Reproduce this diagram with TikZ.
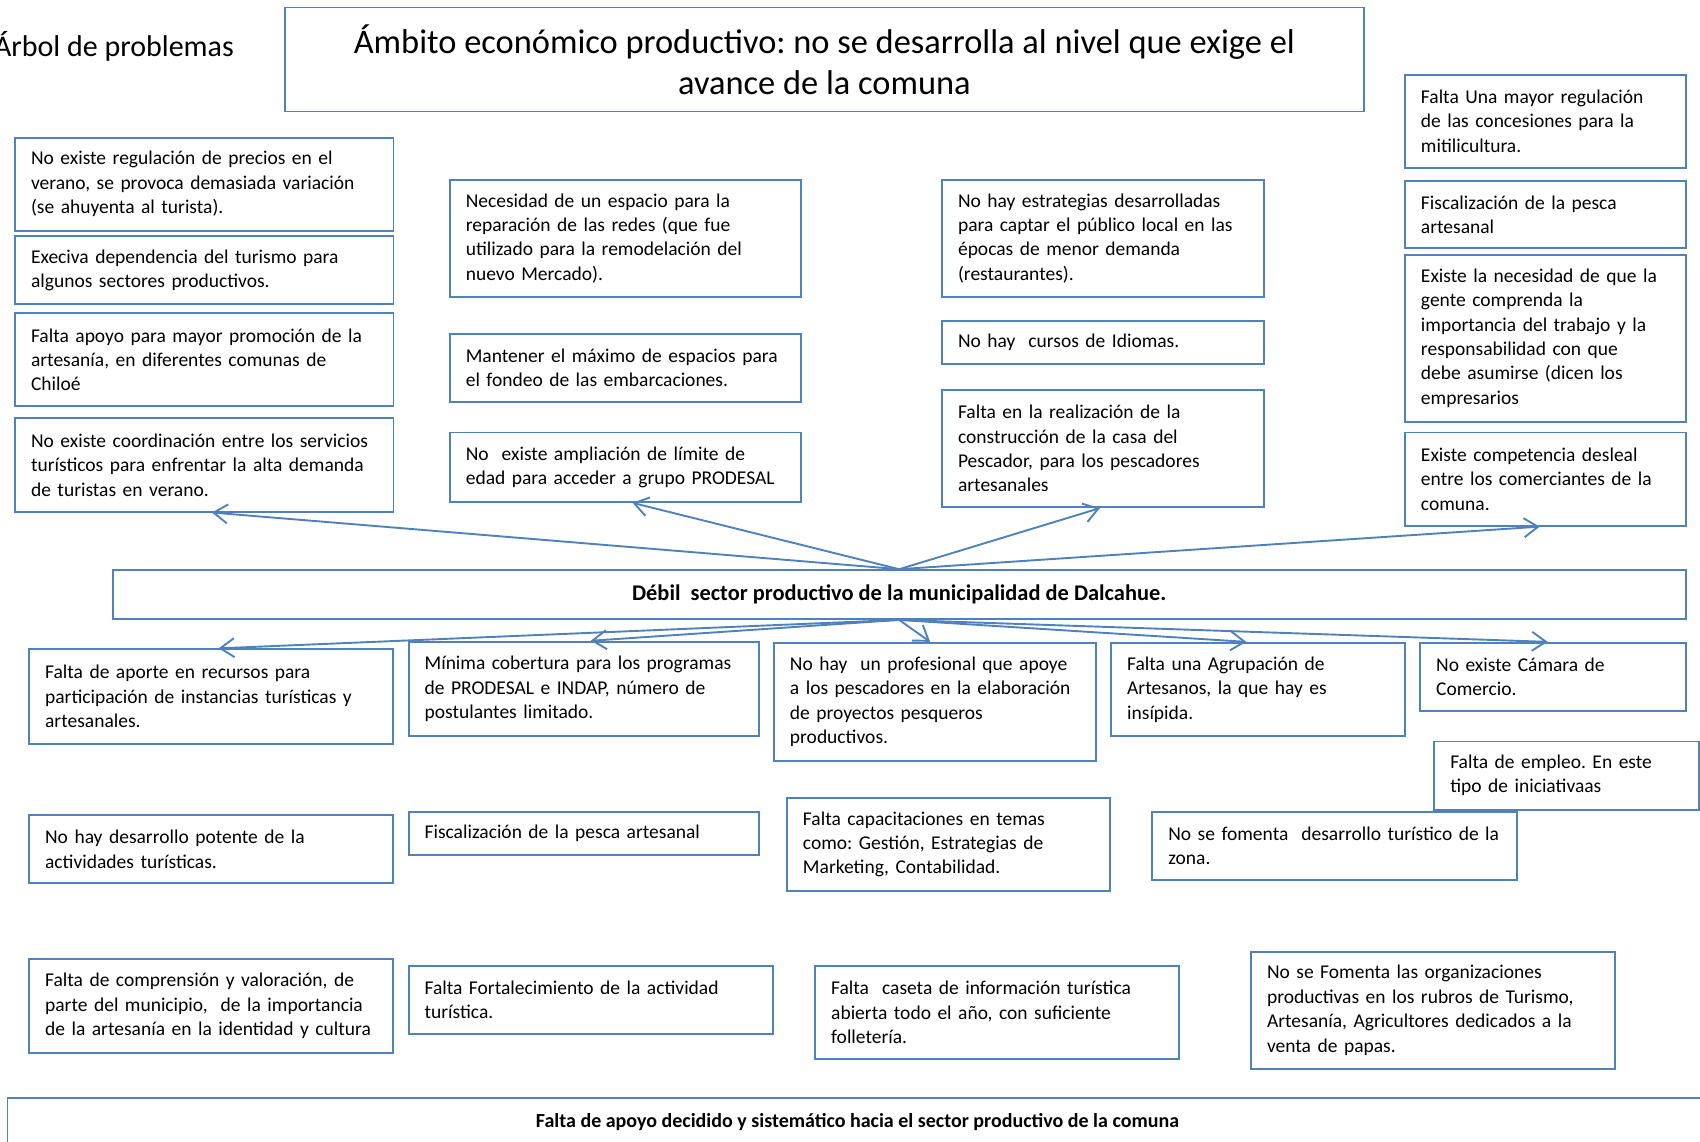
\documentclass[tikz,border=0pt]{standalone}
\usepackage{fontspec}
\setmainfont{Carlito}
\usepackage{tikz}
\usetikzlibrary{arrows.meta}
\usetikzlibrary{calc}
\definecolor{azul}{RGB}{79,129,189}
\frenchspacing
\hyphenpenalty=10000
\exhyphenpenalty=10000

\begin{document}
\begin{tikzpicture}[
    x=0.542pt, y=-0.542pt,
    >={Straight Barb[length=7pt,width=9.5pt]},
    caja/.style={rectangle, draw=azul, line width=0.95pt, anchor=north west, align=left, inner xsep=8pt, inner ysep=3pt, font=\fontsize{9.75}{12.2}\selectfont},
    caja_centro/.style={rectangle, draw=azul, line width=0.95pt, anchor=north west, align=center, font=\fontsize{10}{12.2}\selectfont\bfseries},
    flecha/.style={draw=azul, line width=0.95pt},
  ]
  \useasboundingbox (0,0) rectangle (1568,1052.6);
  \clip (0,0) rectangle (1568,1052.6);

  % Nodes
  \node[anchor=base east, inner sep=0pt, font=\fontsize{15}{18}\selectfont] (arbol) at (216,52) {Árbol de problemas};
  \node[caja_centro, minimum width=539.3pt, minimum height=52pt, font=\fontsize{17.2}{20.6}\selectfont] (titulo) at (262,6)
    {Ámbito económico productivo: no se desarrolla al nivel que exige el\\avance de la comuna};

  % efectos
  \node[caja, text width=173.2pt, minimum height=46.6pt] (ef_1_1) at (13,126)
    {No existe regulación de precios en el\\verano, se provoca demasiada variación\\(se ahuyenta al turista).};
  \node[caja, text width=173.2pt, minimum height=34.1pt] (ef_1_2) at (13,217)
    {Execiva dependencia del turismo para\\algunos sectores productivos.};
  \node[caja, text width=173.2pt, minimum height=46.6pt] (ef_1_3) at (13,288)
    {Falta apoyo para mayor promoción de la\\artesanía, en diferentes comunas de\\Chiloé};
  \node[caja, text width=173.2pt, minimum height=46.6pt] (ef_1_4) at (13,385)
    {No existe coordinación entre los servicios\\turísticos para enfrentar la alta demanda\\de turistas en verano.};

  \node[caja, text width=159.6pt, minimum height=58.5pt] (ef_2_1) at (414,165)
    {Necesidad de un espacio para la\\reparación de las redes (que fue\\utilizado para la remodelación del\\nuevo Mercado).};
  \node[caja, text width=159.6pt, minimum height=34.1pt] (ef_2_2) at (414,307)
    {Mantener el máximo de espacios para\\el fondeo de las embarcaciones.};
  \node[caja, text width=159.6pt, minimum height=34.7pt] (ef_2_3) at (414,398)
    {No\ \ existe ampliación de límite de\\edad para acceder a grupo PRODESAL};

  \node[caja, text width=145pt, minimum height=58.5pt] (ef_3_1) at (868,165)
    {No hay estrategias desarrolladas\\para captar el público local en las\\épocas de menor demanda\\(restaurantes).};
  \node[caja, text width=145pt, minimum height=21.7pt] (ef_3_2) at (868,295)
    {No hay\ \ cursos de Idiomas.};
  \node[caja, text width=145pt, minimum height=58.5pt] (ef_3_3) at (868,359)
    {Falta en la realización de la\\construcción de la casa del\\Pescador, para los pescadores\\artesanales};

  \node[caja, text width=124.4pt, minimum height=46.6pt] (ef_4_1) at (1295,68)
    {Falta Una mayor regulación\\de las concesiones para la\\mitilicultura.};
  \node[caja, text width=124.4pt, minimum height=33.6pt] (ef_4_2) at (1295,166)
    {Fiscalización de la pesca\\artesanal};
  \node[caja, text width=124.4pt, minimum height=83.5pt] (ef_4_3) at (1295,234)
    {Existe la necesidad de que la\\gente comprenda la\\importancia del trabajo y la\\responsabilidad con que\\debe asumirse (dicen los\\empresarios};
  \node[caja, text width=124.4pt, minimum height=46.6pt] (ef_4_4) at (1295,398)
    {Existe competencia desleal\\entre los comerciantes de la\\comuna.};

  % problema central
  \node[caja_centro, minimum width=786.4pt, minimum height=24.4pt, font=\fontsize{11.2}{13}\selectfont\bfseries] (problema) at (103,525)
    {Débil\ \ sector productivo de la municipalidad de Dalcahue.};

  % causas
  \node[caja, text width=166.1pt, minimum height=47.2pt] (ca_1_1) at (26,598)
    {Falta de aporte en recursos para\\participación de instancias turísticas y\\artesanales.};
  \node[caja, text width=159.1pt, minimum height=47.2pt] (ca_1_2) at (376,591)
    {Mínima cobertura para los programas\\de PRODESAL e INDAP, número de\\postulantes limitado.};
  \node[caja, text width=145pt, minimum height=59.1pt] (ca_1_3) at (713,592)
    {No hay\ \ un profesional que apoye\\a los pescadores en la elaboración\\de proyectos pesqueros\\productivos.};
  \node[caja, text width=130.9pt, minimum height=46.6pt] (ca_1_4) at (1024,592)
    {Falta una Agrupación de\\Artesanos, la que hay es\\insípida.};
  \node[caja, text width=116.8pt, minimum height=34.1pt] (ca_1_5) at (1309,592)
    {No existe Cámara de\\Comercio.};

  \node[caja, text width=116.2pt, minimum height=34.1pt] (ca_2_5) at (1322,683)
    {Falta de empleo. En este\\tipo de iniciativaas};
  \node[caja, text width=166.1pt, minimum height=34.1pt] (ca_2_1) at (26,751)
    {No hay desarrollo potente de la\\actividades turísticas.};
  \node[caja, text width=159.1pt, minimum height=21.7pt] (ca_2_2) at (376,748)
    {Fiscalización de la pesca artesanal};
  \node[caja, text width=145.5pt, minimum height=46.6pt] (ca_2_3) at (725,735)
    {Falta capacitaciones en temas\\como: Gestión, Estrategias de\\Marketing, Contabilidad.};
  \node[caja, text width=166.1pt, minimum height=34.1pt] (ca_2_4) at (1062,748)
    {No se fomenta\ \ desarrollo turístico de la\\zona.};

  \node[caja, text width=166.1pt, minimum height=46.6pt] (ca_3_1) at (26,884)
    {Falta de comprensión y valoración, de\\parte del municipio,\ \ de la importancia\\de la artesanía en la identidad y cultura};
  \node[caja, text width=166.1pt, minimum height=34.1pt] (ca_3_2) at (376,890)
    {Falta Fortalecimiento de la actividad\\turística.};
  \node[caja, text width=166.1pt, minimum height=46.6pt] (ca_3_3) at (751,890)
    {Falta\ \ caseta de información turística\\abierta todo el año, con suficiente\\folletería.};
  \node[caja, text width=166.1pt, minimum height=58.5pt] (ca_3_4) at (1153,877)
    {No se Fomenta las organizaciones\\productivas en los rubros de Turismo,\\Artesanía, Agricultores dedicados a la\\venta de papas.};

  \node[caja_centro, minimum width=849.9pt, minimum height=23.85pt] (raiz) at (6,1012)
    {Falta de apoyo decidido y sistemático hacia el sector productivo de la comuna};

  %Lines
  \draw[->, flecha] (problema.north) -- ($(ef_1_4.south west)!0.52!(ef_1_4.south east)$);
  \draw[->, flecha] (problema.north) -- ($(ef_2_3.south west)!0.52!(ef_2_3.south east)$);
  \draw[->, flecha] (problema.north) -- ($(ef_3_3.south west)!0.49!(ef_3_3.south east)$);
  \draw[->, flecha] (problema.north) -- ($(ef_4_4.south west)!0.48!(ef_4_4.south east)$);
  \draw[->, flecha] (problema.south) -- ($(ca_1_1.north west)!0.52!(ca_1_1.north east)$);
  \draw[->, flecha] (problema.south) -- ($(ca_1_2.north west)!0.52!(ca_1_2.north east)$);
  \draw[->, flecha] (problema.south) -- ($(ca_1_3.north west)!0.485!(ca_1_3.north east)$);
  \draw[->, flecha] (problema.south) -- ($(ca_1_4.north west)!0.46!(ca_1_4.north east)$);
  \draw[->, flecha] (problema.south) -- ($(ca_1_5.north west)!0.48!(ca_1_5.north east)$);
\end{tikzpicture}
\end{document}
